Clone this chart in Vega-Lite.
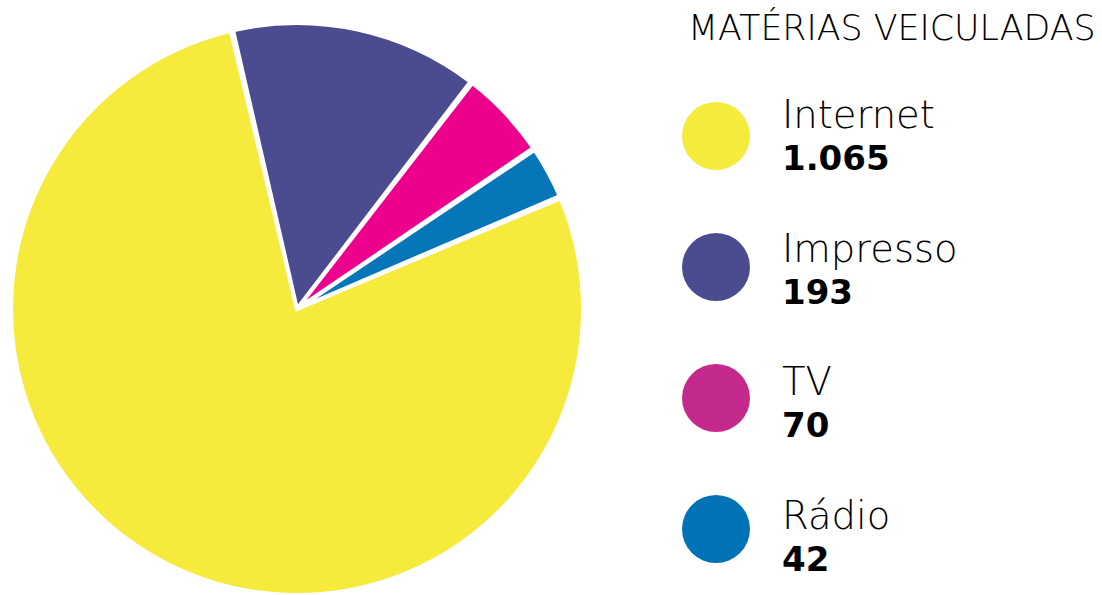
{
  "$schema": "https://vega.github.io/schema/vega-lite/v6.json",
  "padding": {"left": 0, "right": 0, "top": 12, "bottom": 0},
  "background": "white",
  "spacing": 86,
  "config": {"view": {"stroke": null}},
  "datasets": {
    "midia": [
      {"categoria": "Internet", "valor": 1065, "rotulo": "1.065", "ordem": 1},
      {"categoria": "Impresso", "valor": 193, "rotulo": "193", "ordem": 2},
      {"categoria": "TV", "valor": 70, "rotulo": "70", "ordem": 3},
      {"categoria": "Rádio", "valor": 42, "rotulo": "42", "ordem": 4}
    ]
  },
  "resolve": {"scale": {"color": "independent", "y": "independent"}},
  "hconcat": [
    {
      "width": 594,
      "height": 576,
      "data": {"name": "midia"},
      "mark": {"type": "arc", "radius": 286, "stroke": "white", "strokeWidth": 4, "strokeJoin": "round", "padAngle": 0.008},
      "encoding": {
        "theta": {"field": "valor", "type": "quantitative", "stack": true, "scale": {"range": [1.1694, 7.4526]}},
        "color": {
          "field": "categoria", "type": "nominal",
          "scale": {"domain": ["Internet", "Impresso", "TV", "Rádio"], "range": ["#F6EB3D", "#4B4C90", "#EC008C", "#0676B9"]},
          "legend": null
        },
        "order": {"field": "ordem", "type": "quantitative", "sort": "ascending"}
      }
    },
    {
      "width": 422,
      "height": 576,
      "resolve": {"scale": {"y": "independent", "color": "independent"}},
      "layer": [
        {
          "data": {"name": "midia"},
          "mark": {"type": "circle", "x": 36, "size": 4624, "opacity": 1},
          "encoding": {
            "y": {"field": "categoria", "type": "nominal", "sort": ["Internet", "Impresso", "TV", "Rádio"], "scale": {"type": "point", "range": [115, 508], "padding": 0}, "axis": null},
            "color": {
              "field": "categoria", "type": "nominal",
              "scale": {"domain": ["Internet", "Impresso", "TV", "Rádio"], "range": ["#F5EB3C", "#4B4C90", "#C42A8E", "#0072B5"]},
              "legend": null
            }
          }
        },
        {
          "data": {"name": "midia"},
          "mark": {"type": "text", "x": 102, "align": "left", "baseline": "alphabetic", "font": "DejaVu Sans", "fontWeight": 200, "fontSize": 38.5, "color": "#000000"},
          "encoding": {
            "y": {"field": "categoria", "type": "nominal", "sort": ["Internet", "Impresso", "TV", "Rádio"], "scale": {"type": "point", "range": [107, 508], "padding": 0}, "axis": null},
            "text": {"field": "categoria"}
          }
        },
        {
          "data": {"name": "midia"},
          "mark": {"type": "text", "x": 102, "dy": 42, "align": "left", "baseline": "alphabetic", "font": "DejaVu Sans", "fontWeight": "bold", "fontSize": 34, "color": "#000000"},
          "encoding": {
            "y": {"field": "categoria", "type": "nominal", "sort": ["Internet", "Impresso", "TV", "Rádio"], "scale": {"type": "point", "range": [107, 508], "padding": 0}, "axis": null},
            "text": {"field": "rotulo"}
          }
        },
        {
          "data": {"values": [{"titulo": "MATÉRIAS VEICULADAS"}]},
          "mark": {"type": "text", "x": 8, "y": 19, "align": "left", "baseline": "alphabetic", "font": "DejaVu Sans", "fontWeight": 200, "fontSize": 34.8, "color": "#000000"},
          "encoding": {"text": {"field": "titulo"}}
        }
      ]
    }
  ]
}
